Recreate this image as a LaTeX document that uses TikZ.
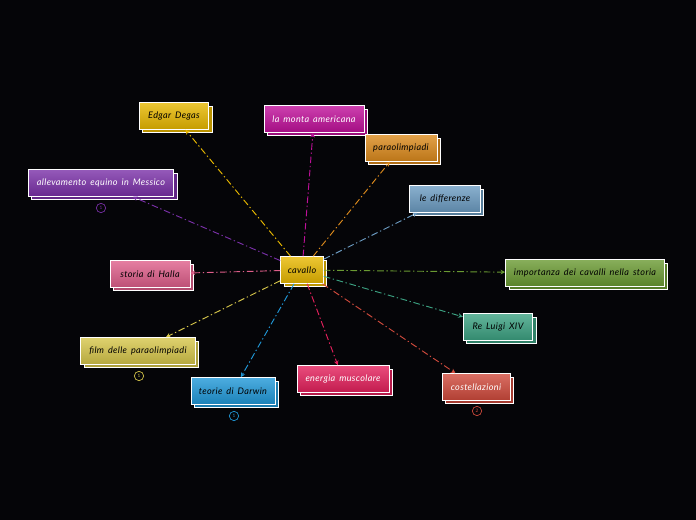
\documentclass[tikz,border=0pt]{standalone}
\usepackage{fontspec}
\setmainfont{Lato}[LetterSpace=4, WordSpace=1.6]
\usetikzlibrary{arrows.meta, shadows}

% Farben der Themen
\definecolor{bgdark}{HTML}{050508}
\definecolor{cgold}{HTML}{E8B800}
\definecolor{cmagenta}{HTML}{C0109A}
\definecolor{corange}{HTML}{DC8A1C}
\definecolor{csteel}{HTML}{6C9CC2}
\definecolor{cgreen}{HTML}{6A9A32}
\definecolor{cteal}{HTML}{3CA282}
\definecolor{cred}{HTML}{D04A3C}
\definecolor{ccrimson}{HTML}{E4205C}
\definecolor{cblue}{HTML}{2098D8}
\definecolor{ckhaki}{HTML}{D6C64A}
\definecolor{cpink}{HTML}{DE5E8A}
\definecolor{cpurple}{HTML}{7A30A8}

\tikzset{
  topic/.style={draw=white, line width=0.7pt, minimum height=20pt, inner sep=0pt,
    font=\fontsize{6.8}{8}\selectfont\itshape,
    top color=#1!80!white, bottom color=#1!85!black,
    copy shadow={shadow xshift=2.6pt, shadow yshift=-2.6pt, draw=white, fill=#1!80!black, line width=0.7pt}},
  link/.style={draw=#1, line width=0.7pt, dash pattern=on 5pt off 2pt on 1pt off 2pt, -{Stealth[length=3.5pt,width=3.5pt]}},
  badge/.style={circle, draw=#1, line width=0.5pt, inner sep=0pt, minimum size=7pt,
    font=\fontsize{3.5}{4}\selectfont, text=#1}
}

\begin{document}
\begin{tikzpicture}[x=0.75pt, y=-0.75pt]
  % Hintergrund
  \fill[bgdark] (0,0) rectangle (696,520);

  % Zentrum
  \node[topic=cgold, minimum width=32pt] (cav) at (302,270) {cavallo};

  % Themen rundherum
  \node[topic=cgold, minimum width=52pt] (degas) at (174,116) {Edgar Degas};
  \node[topic=cmagenta, minimum width=75pt, text=white] (monta) at (314,119) {la monta americana};
  \node[topic=corange, minimum width=54pt] (para) at (401,148) {paraolimpiadi};
  \node[topic=csteel, minimum width=53pt] (diff) at (445,199) {le differenze};
  \node[topic=cgreen, minimum width=119pt] (imp) at (585,273) {importanza dei cavalli nella storia};
  \node[topic=cteal, minimum width=52pt] (luigi) at (498,327) {Re Luigi XIV};
  \node[topic=cred, minimum width=51pt, text=white] (stell) at (476,387) {costellazioni};
  \node[topic=ccrimson, minimum width=69pt, text=white] (energ) at (343,379) {energia muscolare};
  \node[topic=cblue, minimum width=63pt] (darwin) at (233,391) {teorie di Darwin};
  \node[topic=ckhaki, minimum width=86pt] (film) at (138,351) {film delle paraolimpiadi};
  \node[topic=cpink, minimum width=60pt] (halla) at (150,274) {storia di Halla};
  \node[topic=cpurple, minimum width=109pt, text=white] (alle) at (101,183) {allevamento equino in Messico};

  % Kleine Zähler
  \node[badge=cpurple] (b1) at (101,208) {1};
  \node[badge=ckhaki] (b2) at (139,376) {1};
  \node[badge=cblue] (b3) at (234,416) {1};
  \node[badge=cred] (b4) at (477,411) {2};

  % Verbindungen
  \draw[link=cgold] (cav) -- (degas);
  \draw[link=cmagenta] (cav) -- (monta);
  \draw[link=corange] (cav) -- (para);
  \draw[link=csteel] (cav) -- (diff);
  \draw[link=cgreen] (cav) -- (imp);
  \draw[link=cteal] (cav) -- (luigi);
  \draw[link=cred] (cav) -- (stell);
  \draw[link=ccrimson] (cav) -- (energ);
  \draw[link=cblue] (cav) -- (darwin);
  \draw[link=ckhaki] (cav) -- (film);
  \draw[link=cpink] (cav) -- (halla);
  \draw[link=cpurple] (cav) -- (alle);
\end{tikzpicture}
\end{document}
